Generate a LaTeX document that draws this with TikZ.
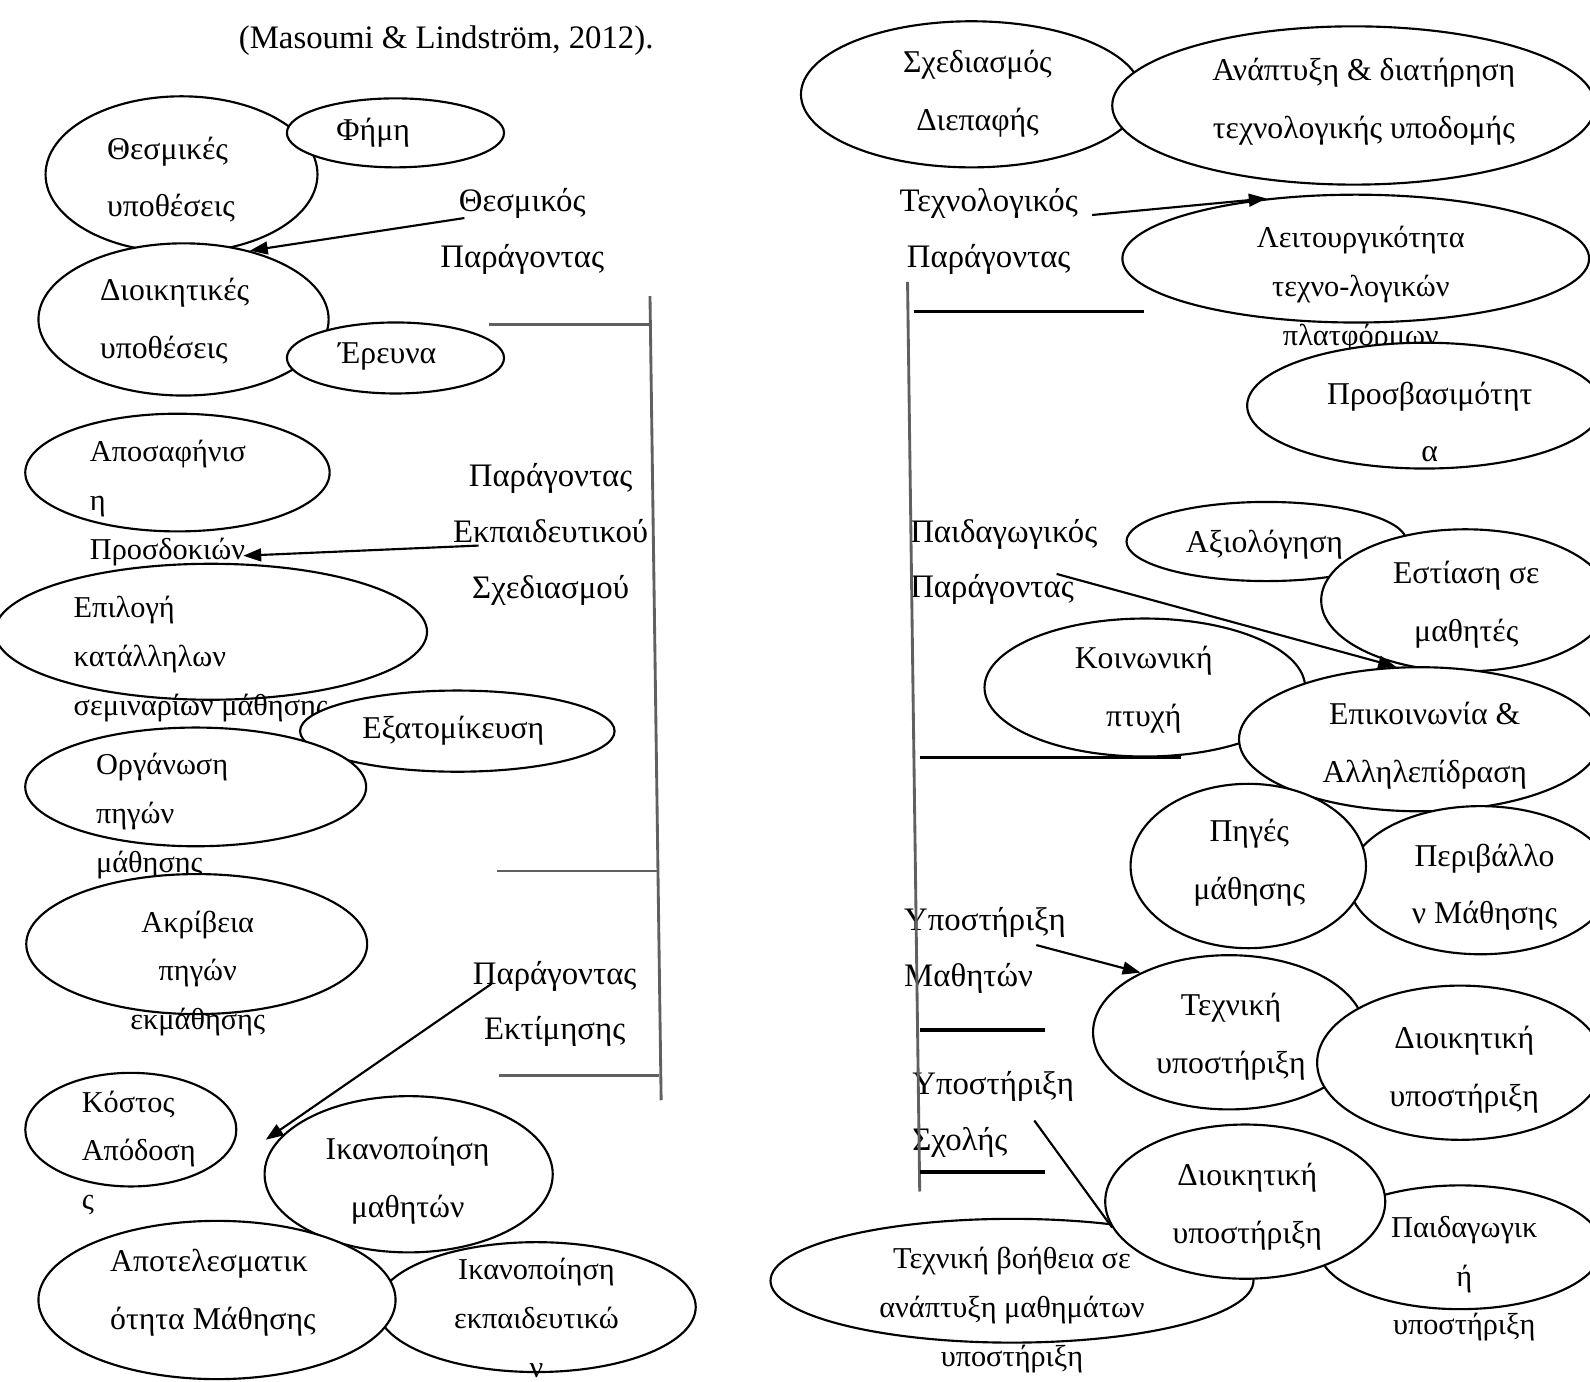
\documentclass[tikz,border=0pt]{standalone}
\usepackage{fontspec}
\setmainfont{Liberation Serif}
\usetikzlibrary{arrows.meta,shapes.geometric}
\definecolor{brgray}{RGB}{96,96,96}

\begin{document}
\begin{tikzpicture}[x=0.01cm, y=-0.01cm,
  bub/.style={draw, ellipse, fill=white, line width=0.6pt, inner sep=0pt},
  txt/.style={font=\fontsize{8.9}{16.2}\selectfont, align=center, inner sep=0pt},
  txtl/.style={txt, align=left, anchor=west},
  sml/.style={font=\fontsize{8.5}{13.7}\selectfont, align=center, inner sep=0pt},
  smll/.style={sml, align=left, anchor=west},
  lbl/.style={font=\fontsize{9.2}{15.6}\selectfont, align=center, inner sep=0pt},
  lbll/.style={lbl, align=left, anchor=west},
  arr/.style={-{Triangle[length=5pt,width=3.6pt]}, line width=0.6pt},
  tie/.style={line width=0.6pt},
  brk/.style={line width=0.8pt, brgray},
  rung/.style={line width=1pt, black}]
  \useasboundingbox (0,0) rectangle (1568,1362);

  %% Citation
  \node[lbl] (cite) at (440,40) {(Masoumi \& Lindström, 2012).};

  %% Left column
  \node[bub, minimum width=2.68cm, minimum height=1.54cm] (thesm) at (179,172) {};
  \node[txtl] (thesmT) at (105,177) {Θεσμικές\\υποθέσεις};
  \node[bub, minimum width=2.14cm, minimum height=0.68cm] (fimi) at (390,131) {};
  \node[txt] (fimiT) at (368,131) {Φήμη};
  \node[bub, minimum width=2.86cm, minimum height=1.50cm] (dioik) at (181,315) {};
  \node[txtl] (dioikT) at (98,317) {Διοικητικές\\υποθέσεις};
  \node[bub, minimum width=2.14cm, minimum height=0.70cm] (erevna) at (390,353) {};
  \node[txt] (erevnaT) at (382,352) {Έρευνα};

  \node[bub, minimum width=3.00cm, minimum height=1.16cm] (aposaf) at (175,466) {};
  \node[smll] (aposafT) at (88,496) {Αποσαφήνισ\\η\\Προσδοκιών};
  \node[bub, minimum width=4.26cm, minimum height=1.34cm] (epil) at (208,623) {};
  \node[smll] (epilT) at (72,650) {Επιλογή\\κατάλληλων\\σεμιναρίων μάθησης};
  \node[bub, minimum width=3.10cm, minimum height=0.80cm] (exat) at (451,721) {};
  \node[txt] (exatT) at (447,721) {Εξατομίκευση};
  \node[bub, minimum width=3.36cm, minimum height=1.17cm] (organ) at (193,776) {};
  \node[smll] (organT) at (94,805) {Οργάνωση\\πηγών\\μάθησης};
  \node[bub, minimum width=3.36cm, minimum height=1.38cm] (akriv) at (194,931) {};
  \node[sml] (akrivT) at (195,960) {Ακρίβεια\\πηγών\\εκμάθησης};

  \node[bub, minimum width=2.08cm, minimum height=1.12cm] (kostos) at (129,1114) {};
  \node[smll] (kostosT) at (80,1137) {Κόστος\\Απόδοση\\ς};
  \node[bub, minimum width=3.14cm, minimum height=1.28cm] (ikekp) at (529,1289) {};
  \node[sml] (ikekpT) at (529,1300) {Ικανοποίηση\\εκπαιδευτικώ\\ν};
  \node[bub, minimum width=2.84cm, minimum height=1.54cm] (ikmath) at (403,1158) {};
  \node[txt] (ikmathT) at (402,1164) {Ικανοποίηση\\μαθητών};
  \node[bub, minimum width=3.52cm, minimum height=1.56cm] (apot) at (214,1282) {};
  \node[txtl] (apotT) at (108,1275) {Αποτελεσματικ\\ότητα Μάθησης};

  %% Right column
  \node[bub, minimum width=3.36cm, minimum height=1.44cm] (sxed) at (958,93) {};
  \node[txt] (sxedT) at (964,92) {Σχεδιασμός\\Διεπαφής};
  \node[bub, minimum width=4.76cm, minimum height=1.56cm] (anapt) at (1335,104) {};
  \node[txt] (anaptT) at (1345,100) {Ανάπτυξη \& διατήρηση\\τεχνολογικής υποδομής};
  \node[bub, minimum width=4.60cm, minimum height=1.26cm] (leit) at (1337,255) {};
  \node[sml] (leitT) at (1342,285) {Λειτουργικότητα\\τεχνο-λογικών\\πλατφόρμων};
  \node[bub, minimum width=3.50cm, minimum height=1.24cm] (prosv) at (1405,400) {};
  \node[txt] (prosvT) at (1410,416) {Προσβασιμότητ\\α};

  \node[bub, minimum width=2.76cm, minimum height=0.78cm] (axiol) at (1249,534) {};
  \node[txt] (axiolT) at (1247,537) {Αξιολόγηση};
  \node[bub, minimum width=2.84cm, minimum height=1.40cm] (estias) at (1445,592) {};
  \node[txt] (estiasT) at (1446,596) {Εστίαση σε\\μαθητές};
  \node[bub, minimum width=3.16cm, minimum height=1.36cm] (koin) at (1129,678) {};
  \node[txt] (koinT) at (1128,680) {Κοινωνική\\πτυχή};
  \node[bub, minimum width=3.56cm, minimum height=1.42cm] (epik) at (1400,729) {};
  \node[txt] (epikT) at (1405,735) {Επικοινωνία \&\\Αλληλεπίδραση};
  \node[bub, minimum width=2.60cm, minimum height=1.46cm] (periv) at (1460,868) {};
  \node[txt] (perivT) at (1464,875) {Περιβάλλο\\ν Μάθησης};
  \node[bub, minimum width=2.32cm, minimum height=1.62cm] (piges) at (1231,854) {};
  \node[txt] (pigesT) at (1232,851) {Πηγές\\μάθησης};

  \node[bub, minimum width=2.68cm, minimum height=1.52cm] (texnyp) at (1212,1018) {};
  \node[txt] (texnypT) at (1214,1022) {Τεχνική\\υποστήριξη};
  \node[bub, minimum width=2.82cm, minimum height=1.52cm] (dioikA) at (1440,1048) {};
  \node[txt] (dioikAT) at (1444,1055) {Διοικητική\\υποστήριξη};
  \node[bub, minimum width=2.80cm, minimum height=1.22cm] (paidyp) at (1440,1230) {};
  \node[sml] (paidypT) at (1444,1261) {Παιδαγωγικ\\ή\\υποστήριξη};
  \node[bub, minimum width=4.76cm, minimum height=1.22cm] (texnvo) at (998,1263) {};
  \node[sml] (texnvoT) at (998,1292) {Τεχνική βοήθεια σε\\ανάπτυξη μαθημάτων\\υποστήριξη};
  \node[bub, minimum width=2.76cm, minimum height=1.52cm] (dioikB) at (1228,1185) {};
  \node[txt] (dioikBT) at (1230,1190) {Διοικητική\\υποστήριξη};

  %% Factor labels
  \node[lbl] (thesmL) at (515,228) {Θεσμικός\\Παράγοντας};
  \node[lbl] (edsxL) at (543,527) {Παράγοντας\\Εκπαιδευτικού\\Σχεδιασμού};
  \node[lbl] (ektL) at (547,990) {Παράγοντας\\Εκτίμησης};
  \node[lbl] (texnL) at (975,228) {Τεχνολογικός\\Παράγοντας};
  \node[lbll] (paidL) at (897,554) {Παιδαγωγικός\\Παράγοντας};
  \node[lbll] (ypmL) at (891,937) {Υποστήριξη\\Μαθητών};
  \node[lbll] (ypsL) at (899,1099) {Υποστήριξη\\Σχολής};

  %% Brackets
  \draw[brk] (641,292) -- (652,1085);
  \draw[brk] (482,320) -- (642,320);
  \draw[brk] (490,859) -- (650,859);
  \draw[brk] (492,1061) -- (650,1061);
  \draw[brk] (895,278) -- (907,1175);
  \draw[rung] (901,307) -- (1128,307);
  \draw[rung] (907,747) -- (1165,747);
  \draw[rung] (907,1016) -- (1031,1016);
  \draw[rung] (907,1156) -- (1031,1156);

  %% Arrows
  \coordinate (thesmS) at (458,215);
  \coordinate (edsxS) at (472,538);
  \coordinate (edsxE) at (240,548);
  \coordinate (ektS) at (485,970);
  \coordinate (ektE) at (262,1124);
  \coordinate (texnS) at (1077,212);
  \coordinate (paidS) at (1042,566);
  \coordinate (ypmS) at (1022,932);
  \coordinate (ypsS) at (1020,1105);
  \draw[arr] (thesmS) -- (dioik.46);
  \draw[arr] (edsxS) -- (edsxE);
  \draw[arr] (ektS) -- (ektE);
  \draw[arr] (texnS) -- (leit.146);
  \draw[arr] (paidS) -- (epik.108);
  \draw[arr] (ypmS) -- (texnyp.146);
  \draw[tie] (ypsS) -- (dioikB.191);
\end{tikzpicture}
\end{document}
